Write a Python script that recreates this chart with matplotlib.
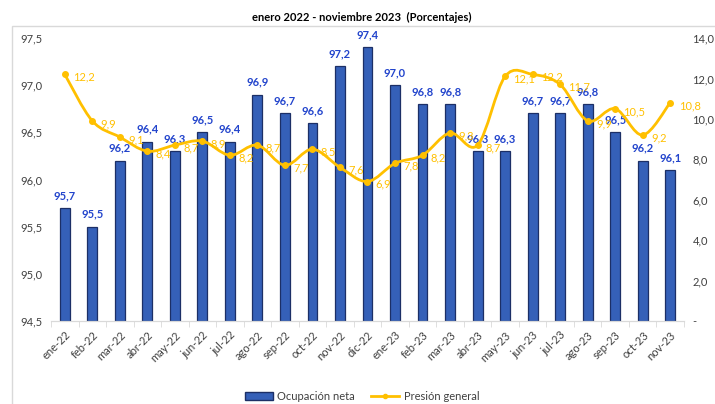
import numpy as np
import matplotlib.pyplot as plt
from matplotlib.path import Path
from matplotlib.patches import PathPatch, Patch, Rectangle
from matplotlib.lines import Line2D

months = ["ene-22", "feb-22", "mar-22", "abr-22", "may-22", "jun-22", "jul-22", "ago-22",
          "sep-22", "oct-22", "nov-22", "dic-22", "ene-23", "feb-23", "mar-23", "abr-23",
          "may-23", "jun-23", "jul-23", "ago-23", "sep-23", "oct-23", "nov-23"]
ocupacion = [95.7, 95.5, 96.2, 96.4, 96.3, 96.5, 96.4, 96.9, 96.7, 96.6, 97.2, 97.4,
             97.0, 96.8, 96.8, 96.3, 96.3, 96.7, 96.7, 96.8, 96.5, 96.2, 96.1]
presion = [12.2, 9.9, 9.1, 8.4, 8.7, 8.9, 8.2, 8.7, 7.7, 8.5, 7.6, 6.9,
           7.8, 8.2, 9.3, 8.7, 12.1, 12.2, 11.7, 9.9, 10.5, 9.2, 10.8]

BAR_COLOR = "#3560b8"
BAR_EDGE = "#1c2f66"
LINE_COLOR = "#FFC000"
LABEL_BLUE = "#2244cc"
TXT = "#404040"

plt.rcParams['font.family'] = ['Lato', 'DejaVu Sans']

fig = plt.figure(figsize=(7.15, 4.04), dpi=100)
ax = fig.add_axes([51/715, 1 - 321/404, (684 - 51)/715, (321 - 38)/404])
ax2 = ax.twinx()

x = np.arange(len(months))

# bars - ocupacion neta
ax.bar(x, [v - 94.5 for v in ocupacion], bottom=94.5, width=0.36,
       color=BAR_COLOR, edgecolor=BAR_EDGE, linewidth=0.9, zorder=2)
for xi, v in zip(x, ocupacion):
    ax.annotate(f"{v:.1f}".replace(".", ","), (xi, v), xytext=(0, 5),
                textcoords="offset points", ha="center", va="bottom",
                fontsize=8, fontweight="bold", color=LABEL_BLUE)

ax.set_ylim(94.5, 97.5)
ax.set_yticks(np.arange(94.5, 97.51, 0.5))
ax.set_yticklabels([f"{v:.1f}".replace(".", ",") for v in np.arange(94.5, 97.51, 0.5)])
ax.set_xlim(-0.5, len(months) - 0.5)
ax.set_xticks(x)
ax.set_xticklabels(months, rotation=45, ha="right", rotation_mode="anchor")
ax.set_xticks(np.arange(-0.5, len(months), 1), minor=True)
ax.tick_params(axis="x", which="major", length=0, labelsize=8, labelcolor=TXT, pad=6)
ax.tick_params(axis="x", which="minor", length=4, color="#d9d9d9")
ax.tick_params(axis="y", length=0, labelsize=8, labelcolor=TXT, pad=6)

# smooth line - presion general (cubic bezier through points)
ys = np.array(presion)
n = len(ys)
verts = [(x[0], ys[0])]
codes = [Path.MOVETO]
for i in range(n - 1):
    p0 = np.array([x[max(i - 1, 0)], ys[max(i - 1, 0)]])
    p1 = np.array([x[i], ys[i]])
    p2 = np.array([x[i + 1], ys[i + 1]])
    p3 = np.array([x[min(i + 2, n - 1)], ys[min(i + 2, n - 1)]])
    c1 = p1 + (p2 - p0) / 6
    c2 = p2 - (p3 - p1) / 6
    verts += [tuple(c1), tuple(c2), tuple(p2)]
    codes += [Path.CURVE4] * 3
ax2.add_patch(PathPatch(Path(verts, codes), facecolor="none", edgecolor=LINE_COLOR,
                        linewidth=2, zorder=3))
ax2.plot(x, presion, linestyle="none", marker="o", markersize=4, color=LINE_COLOR, zorder=4)
for xi, v in zip(x, presion):
    ax2.annotate(f"{v:.1f}".replace(".", ","), (xi, v), xytext=(6, -2),
                 textcoords="offset points", ha="left", va="center",
                 fontsize=8, color=LINE_COLOR)

ax2.set_ylim(0, 14)
ax2.set_yticks(np.arange(0, 14.1, 2))
ax2.set_yticklabels(["-"] + [f"{v:.1f}".replace(".", ",") for v in np.arange(2, 14.1, 2)])
ax2.tick_params(axis="y", length=0, labelsize=8, labelcolor=TXT, pad=6)

for a in (ax, ax2):
    for s in ("top", "left", "right"):
        a.spines[s].set_visible(False)
    a.spines["bottom"].set_color("#d9d9d9")

fig.text(362/715, 1 - 17/404, "enero 2022 - noviembre 2023  (Porcentajes)",
         ha="center", va="center", fontsize=8, fontweight="bold", color="black")

fig.patches.append(Rectangle((12/715, -0.05), 1.1, 1 - 26/404 + 0.05, transform=fig.transFigure,
                             fill=False, edgecolor="#d9d9d9", linewidth=1))

handles = [Patch(facecolor=BAR_COLOR, edgecolor=BAR_EDGE),
           Line2D([0], [0], color=LINE_COLOR, linewidth=2, marker="o", markersize=3)]
fig.legend(handles, ["Ocupación neta", "Presión general"], loc="center",
           bbox_to_anchor=(362/715, 1 - 396/404), ncol=2, frameon=False,
           fontsize=8, labelcolor=TXT, handlelength=2.5, columnspacing=1.5, handletextpad=0.4)

fig.savefig("out.png", dpi=100)
